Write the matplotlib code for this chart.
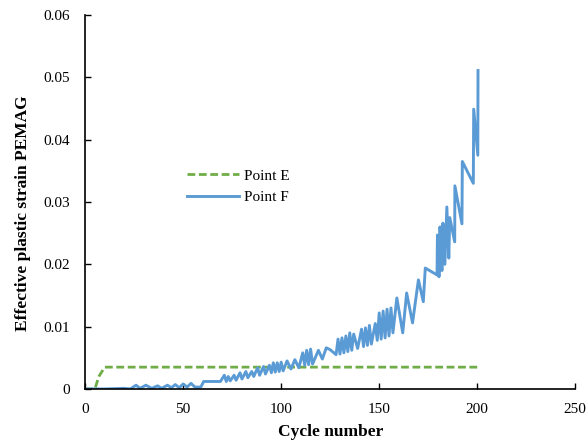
import numpy as np
import matplotlib.pyplot as plt

plt.rcParams['font.family'] = ['Liberation Serif', 'DejaVu Serif']

# Point E: rises early and stays flat
e_cycle = [0, 5, 7, 10, 200]
e_strain = [0, 0, 0.0020, 0.0035, 0.0035]

# Point F: saw-tooth growth
f_cycle = [0, 10, 20, 23, 26, 28, 31, 34, 37, 39, 42, 44, 46, 48, 50, 52, 54, 56, 59, 60.5, 69,
           71, 72, 73, 74, 76, 77, 79, 80, 82, 83, 85, 86, 88, 89, 91, 92, 94, 95, 96, 97, 98, 99,
           100, 101, 103, 105, 107, 109, 111, 112, 113, 114, 115, 116, 119, 121, 123, 125, 128,
           129, 130, 131, 132, 133, 134, 135, 136, 137, 139, 141, 142, 143, 144, 145, 146, 148,
           149, 150, 151, 152, 153, 154, 155, 156, 157, 159, 162, 164, 167, 170, 172.5, 173.5,
           179.5, 179.7, 180.5, 181, 182, 182.5, 183.5, 184.5, 185.5, 186, 188.5, 188.6, 192.2,
           192.4, 198, 198.2, 200.3, 200.4]
f_strain = [0, 0, 0.0001, 0, 0.0006, 0.0001, 0.0006, 0.0001, 0.0005, 0.0001, 0.0006, 0.0002,
            0.0007, 0.0002, 0.0008, 0.0003, 0.0009, 0.0003, 0.0003, 0.0012, 0.0012,
            0.0022, 0.0012, 0.0020, 0.0013, 0.0022, 0.0014, 0.0026, 0.0016, 0.0028, 0.0018,
            0.0028, 0.0020, 0.0034, 0.0022, 0.0036, 0.0024, 0.0038, 0.0026, 0.0042, 0.0027,
            0.0042, 0.0028, 0.0043, 0.0029, 0.0045, 0.0032, 0.0047, 0.0034, 0.0058, 0.0038,
            0.0062, 0.0039, 0.0064, 0.0040, 0.0062, 0.0048, 0.0066, 0.0063, 0.0055,
            0.0080, 0.0056, 0.0082, 0.0058, 0.0085, 0.0060, 0.0090, 0.0062, 0.0088, 0.0065,
            0.0096, 0.0068, 0.0098, 0.0070, 0.0102, 0.0072, 0.0105, 0.0078, 0.0122, 0.0080,
            0.0125, 0.0082, 0.0128, 0.0085, 0.0130, 0.0090, 0.0146, 0.0090, 0.0154, 0.0106,
            0.0175, 0.0140, 0.0194, 0.0183, 0.0247, 0.0180, 0.0260, 0.0190, 0.0266, 0.0200,
            0.0292, 0.0210, 0.0275, 0.0236, 0.0326, 0.0265, 0.0365, 0.0330, 0.0449, 0.0375,
            0.0511]

fig = plt.figure(figsize=(5.87, 4.43), dpi=100)
ax = fig.add_axes([0.145, 0.122, 0.835, 0.844])

ax.plot(e_cycle, e_strain, color='#70AD47', linestyle=(0, (2.8, 1.3)), linewidth=2.0,
        label='Point E')
ax.plot(f_cycle, f_strain, color='#5B9BD5', linewidth=2.1, label='Point F')

ax.set_xlim(0, 250)
ax.set_ylim(0, 0.06)
ax.set_xticks([0, 50, 100, 150, 200, 250])
ax.set_yticks([0, 0.01, 0.02, 0.03, 0.04, 0.05, 0.06])
ax.set_yticklabels(['0', '0.01', '0.02', '0.03', '0.04', '0.05', '0.06'])
ax.tick_params(direction='in', length=4, width=1, labelsize=11)
ax.tick_params(axis='y', pad=11)
ax.tick_params(axis='x', pad=10)

ax.spines['top'].set_visible(False)
ax.spines['right'].set_visible(False)
ax.spines['left'].set_linewidth(1.2)
ax.spines['bottom'].set_linewidth(1.2)

ax.set_xlabel('Cycle number', fontsize=12.5, fontweight='bold', labelpad=6)
ax.set_ylabel('Effective plastic strain PEMAG', fontsize=12.5, fontweight='bold', labelpad=9)
ax.yaxis.label.set_y(0.47)

ax.legend(loc='upper left', bbox_to_anchor=(0.18, 0.625), frameon=False, fontsize=11,
          handlelength=3.4, handletextpad=0.3, labelspacing=0.5)

fig.savefig('out.png', dpi=100)
